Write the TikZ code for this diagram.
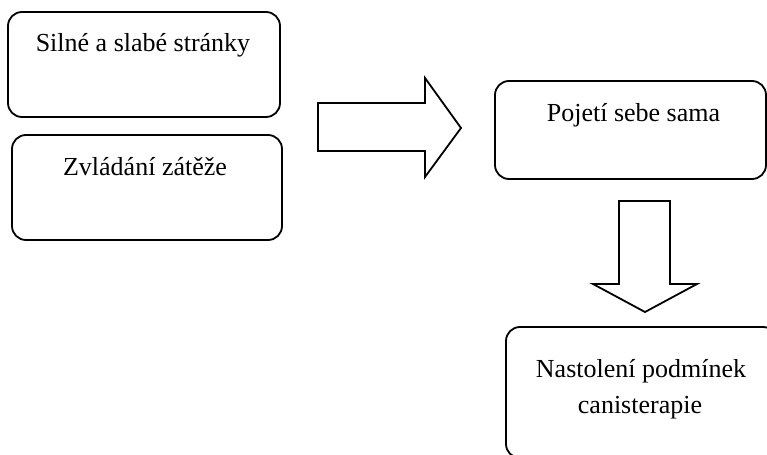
\documentclass[tikz,border=0pt]{standalone}
\usepackage{fontspec}
\setmainfont{Liberation Serif}
\tikzset{
  box/.style={draw, line width=0.9pt, rounded corners=7pt, rectangle, inner sep=0pt},
  lbl/.style={anchor=base, inner sep=0pt, font=\fontsize{13pt}{15pt}\selectfont},
  blockarrow/.style={draw, line width=0.9pt, line join=miter, fill=white}
}
\begin{document}
\begin{tikzpicture}[x=0.5pt,y=-0.5pt]
\clip (0,0) rectangle (767,455);
\fill[white] (0,0) rectangle (767,455);
% boxes
\node[box, minimum width=136pt, minimum height=52.5pt] (b1) at (144,64.5) {};
\node[box, minimum width=135pt, minimum height=52.5pt] (b2) at (147,187.5) {};
\node[box, minimum width=135.5pt, minimum height=49pt] (b3) at (630.5,130) {};
\node[box, minimum width=135.5pt, minimum height=65.5pt] (b4) at (641.5,392.5) {};
% texts
\node[lbl] (t1) at (143,52) {Silné a slabé stránky};
\node[lbl] (t2) at (145,175) {Zvládání zátěže};
\node[lbl] (t3) at (633.5,121) {Pojetí sebe sama};
\node[lbl] (t4a) at (641,377) {Nastolení podmínek};
\node[lbl] (t4b) at (640,413) {canisterapie};
% block arrow right
\draw[blockarrow] (318,103) -- (425,103) -- (425,78) -- (461,128) -- (425,177) -- (425,151) -- (318,151) -- cycle;
% block arrow down
\draw[blockarrow] (619,201) -- (670,201) -- (670,284) -- (697,284) -- (645,312) -- (593,284) -- (619,284) -- cycle;
\end{tikzpicture}
\end{document}
